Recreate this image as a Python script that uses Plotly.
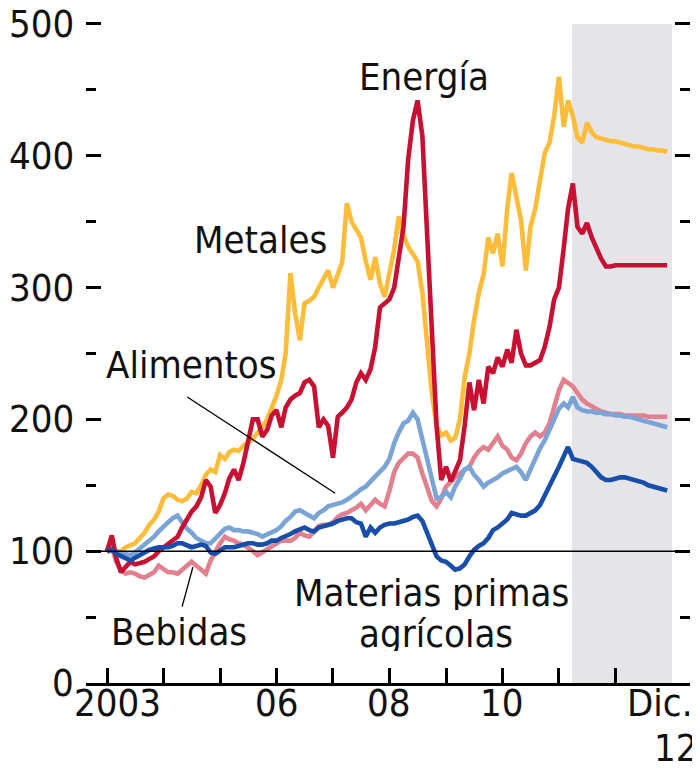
import plotly.graph_objects as go
from datetime import datetime

# ---------------- data (monthly, Jan 2003 - Dec 2012, index 2003 = 100) ----------------
months = [f"{y}-{m:02d}-01" for y in range(2003, 2013) for m in range(1, 13)]

metales = [
    100, 100, 99, 100, 103, 105, 106, 110, 114, 120, 124, 130,
    140, 143, 142, 139, 138, 140, 145, 144, 150, 158, 162, 160,
    173, 170, 175, 177, 176, 180, 182, 185, 190, 194, 200, 208,
    218, 230, 250, 311, 281, 260, 288, 290, 293, 300, 306, 313,
    300, 310, 319, 364, 350, 344, 338, 320, 306, 323, 303, 293,
    311, 329, 354, 340, 331, 326, 320, 296, 260, 220, 195, 188,
    190, 184, 186, 200, 232, 250, 275, 296, 310, 338, 326, 341,
    316, 360, 387, 370, 351, 313, 346, 360, 380, 402, 410, 430,
    460, 422, 442, 430, 414, 410, 425, 418, 414, 413, 412, 411,
    411, 410, 409, 408, 407, 407, 406, 405, 405, 404, 404, 403,
]

energia = [
    100, 112, 95, 84, 88, 92, 90, 91, 92, 94, 96, 100,
    103, 106, 108, 111, 118, 124, 130, 134, 141, 154, 149, 129,
    135, 144, 155, 162, 154, 167, 182, 200, 200, 187, 192, 203,
    207, 194, 209, 215, 218, 220, 228, 230, 225, 194, 200, 195,
    171, 202, 205, 209, 215, 228, 235, 230, 238, 255, 285, 288,
    291, 300, 320, 346, 397, 427, 442, 415, 340, 270, 195, 154,
    164, 153, 160, 169, 195, 228, 207, 230, 212, 240, 235, 247,
    240, 253, 243, 268, 250, 241, 241, 243, 245, 255, 270, 291,
    300, 330, 360, 379, 346, 341, 349, 338, 329, 322, 316, 316,
    317, 317, 317, 317, 317, 317, 317, 317, 317, 317, 317, 317,
]

alimentos = [
    100, 102, 100, 99, 98, 97, 99, 102, 104, 108, 111, 115,
    119, 122, 125, 127, 122, 117, 114, 110, 108, 106, 106, 110,
    114, 117, 118, 116, 116, 115, 115, 114, 113, 111, 113, 114,
    116, 119, 123, 126, 130, 131, 129, 127, 125, 129, 131, 134,
    135, 136, 137, 139, 141, 144, 147, 149, 153, 157, 161, 164,
    170, 182, 190, 197, 199, 205, 200, 185, 170, 155, 140, 141,
    145, 141, 149, 155, 162, 164, 158, 154, 149, 152, 154, 156,
    159, 161, 162, 164, 160, 154, 162, 171, 178, 184, 192, 200,
    208, 212, 209, 217, 209, 207, 206, 206, 205, 205, 204, 204,
    203, 203, 202, 202, 201, 200, 199, 198, 197, 196, 195, 194,
]

bebidas = [
    100, 104, 92, 86, 83, 84, 83, 81, 80, 82, 84, 89,
    86, 84, 84, 83, 86, 89, 92, 89, 86, 83, 93, 100,
    106, 111, 109, 108, 106, 105, 103, 100, 97, 99, 101, 103,
    105, 108, 108, 108, 110, 114, 112, 111, 115, 119, 120, 120,
    122, 126, 128, 129, 131, 133, 136, 131, 135, 139, 136, 134,
    146, 160, 167, 171, 174, 174, 171, 159, 149, 138, 134, 140,
    149, 153, 156, 159, 162, 164, 171, 176, 179, 177, 182, 187,
    180, 177, 171, 169, 174, 182, 187, 190, 187, 190, 197, 209,
    222, 230, 228, 225, 220, 215, 212, 210, 207, 206, 205, 204,
    204, 204, 203, 203, 203, 203, 203, 202, 202, 202, 202, 202,
]

agricolas = [
    100, 101, 98, 96, 95, 93, 95, 97, 99, 101, 102, 103,
    103, 103, 104, 106, 106, 104, 103, 104, 105, 104, 99, 98,
    101, 103, 103, 103, 104, 105, 106, 106, 105, 105, 106, 108,
    108, 110, 111, 113, 115, 117, 118, 116, 115, 118, 119, 120,
    121, 123, 124, 125, 125, 122, 121, 111, 118, 114, 118, 120,
    121, 121, 122, 123, 124, 126, 127, 123, 114, 105, 96, 93,
    92, 89, 86, 87, 90, 96, 101, 104, 106, 110, 116, 118,
    121, 124, 129, 128, 127, 127, 129, 131, 135, 142, 148, 156,
    164, 172, 179, 170, 169, 168, 167, 164, 160, 156, 154, 154,
    155, 156, 156, 155, 154, 153, 152, 150, 149, 148, 147, 146,
]

y_ticks = [0, 100, 200, 300, 400, 500]
x_tick_years = list(range(2003, 2013))
x_labels = [("2003", 2003.18), ("06", 2006.0), ("08", 2008.0), ("10", 2010.0)]

# ---------------- helpers ----------------
def yr(t):
    y = int(t)
    start = datetime(y, 1, 1)
    end = datetime(y + 1, 1, 1)
    return (start + (end - start) * (t - y)).strftime("%Y-%m-%d %H:%M")

FONT = "DejaVu Sans Condensed, Liberation Sans Narrow, Arial Narrow, sans-serif"
FS = 38
TXT = "#111"

series = [
    ("Metales", metales, "rgb(253,188,58)"),
    ("Bebidas", bebidas, "rgb(226,128,143)"),
    ("Alimentos", alimentos, "rgb(122,163,214)"),
    ("Energía", energia, "rgb(200,16,50)"),
    ("Materias primas agrícolas", agricolas, "rgb(24,78,170)"),
]

fig = go.Figure()
for name, vals, col in series:
    fig.add_trace(go.Scatter(x=months, y=vals, mode="lines", name=name,
                             line=dict(color=col, width=4.6), showlegend=False))

# shaded projection area
fig.add_shape(type="rect", xref="x", yref="y", x0=yr(2011.23), x1=yr(2013.0),
              y0=0, y1=500, fillcolor="rgb(228,228,233)", line_width=0, layer="below")
# 100 reference line
fig.add_shape(type="line", xref="paper", yref="y", x0=0, x1=1, y0=100, y1=100,
              line=dict(color="black", width=1.5))
# callout lines
fig.add_shape(type="line", xref="x", yref="y", x0=yr(2004.42), y0=217, x1=yr(2007.04), y1=144,
              line=dict(color="black", width=1.3))
fig.add_shape(type="line", xref="x", yref="y", x0=yr(2004.33), y0=58, x1=yr(2004.52), y1=88,
              line=dict(color="black", width=1.3))

def label(text, t, v, **kw):
    fig.add_annotation(x=yr(t), y=v, xref="x", yref="y", text=text, showarrow=False,
                       font=dict(family=FONT, size=FS, color=TXT), **kw)

label("Energía", 2008.61, 460)
label("Metales", 2005.71, 336)
label("Alimentos", 2004.50, 241)
label("Bebidas", 2004.27, 39)
label("Materias primas", 2008.75, 68, height=34)
label("agrícolas", 2008.82, 37, height=34)

# y labels as annotations
for v in y_ticks:
    fig.add_annotation(x=0, y=v, xref="paper", yref="y", xanchor="right", yanchor="middle",
                       xshift=-10, height=30, text=str(v), showarrow=False,
                       font=dict(family=FONT, size=FS, color=TXT))

# x labels as annotations
for txt, t in x_labels:
    fig.add_annotation(x=yr(t), y=0, xref="x", yref="y", yanchor="top", yshift=4,
                       text=txt, showarrow=False, font=dict(family=FONT, size=FS, color=TXT))
fig.add_annotation(x=1, y=0, xref="paper", yref="y", xanchor="right", yanchor="top", yshift=4,
                   xshift=4, text="Dic.", showarrow=False, font=dict(family=FONT, size=FS, color=TXT))
fig.add_annotation(x=1, y=0, xref="paper", yref="y", xanchor="right", yanchor="top", yshift=-46,
                   xshift=10, height=34, text="12", showarrow=False,
                   font=dict(family=FONT, size=FS, color=TXT))

# the page body adds an 8px offset, so the figure is 692x762 and margins are shifted by 8px
fig.update_layout(
    width=692, height=762,
    margin=dict(l=78, r=10, t=14, b=87),
    paper_bgcolor="white", plot_bgcolor="white",
    font=dict(family=FONT, size=FS, color=TXT),
    xaxis=dict(
        type="date", range=[yr(2002.628), yr(2013.319)], automargin=False,
        showgrid=False, zeroline=False, showline=True, linecolor="black", linewidth=2.5,
        ticks="inside", ticklen=15, tickwidth=2.5, tickcolor="black",
        tickmode="array", tickvals=[f"{y}-01-01" for y in x_tick_years],
        ticktext=["" for _ in x_tick_years],
    ),
    yaxis=dict(
        range=[0, 501.5], automargin=False, showgrid=False, zeroline=False, showline=False,
        ticks="inside", ticklen=15, tickwidth=2.5, tickcolor="black", mirror="ticks",
        tickmode="array", tickvals=y_ticks, showticklabels=False,
        minor=dict(dtick=50, ticks="inside", ticklen=10, tickwidth=2.5, tickcolor="black"),
    ),
)

fig.write_html("out.html")
